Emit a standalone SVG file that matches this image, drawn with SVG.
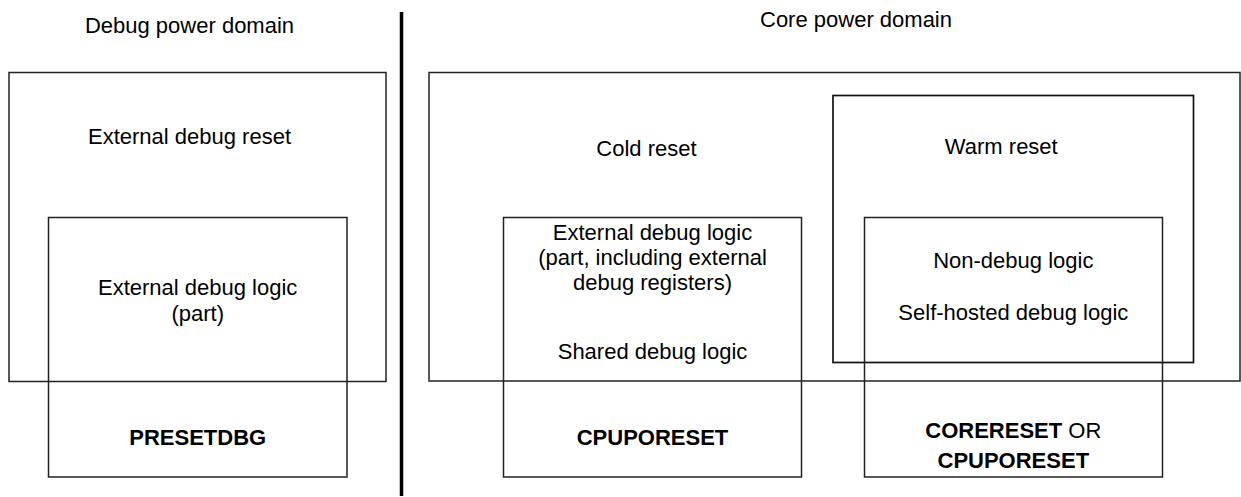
<svg xmlns="http://www.w3.org/2000/svg" width="1241" height="497" viewBox="0 0 1241 497">
<style>
text{font-family:"Liberation Sans",Arial,sans-serif;font-size:22px;fill:#000;text-anchor:middle}
.b{font-weight:bold}
.box{fill:none;stroke:#222;stroke-width:1.5}
.box2{fill:none;stroke:#111;stroke-width:1.7}
</style>
<rect width="1241" height="497" fill="#fff"/>
<g id="labels">
<text x="189.5" y="33">Debug power domain</text>
<text x="856" y="27">Core power domain</text>
</g>
<g id="divider"><line x1="401.5" y1="12" x2="401.5" y2="496" stroke="#000" stroke-width="3.5"/></g>
<g id="external-debug-reset">
<rect class="box" x="9" y="72.5" width="377" height="309"/>
<text x="189.5" y="144">External debug reset</text>
</g>
<g id="presetdbg">
<rect class="box" x="48.5" y="217.5" width="298.5" height="259.5"/>
<text x="197.7" y="295">External debug logic</text>
<text x="197.7" y="321">(part)</text>
<text class="b" x="197.7" y="445">PRESETDBG</text>
</g>
<g id="cold-reset">
<rect class="box" x="429" y="72.5" width="811" height="308.5"/>
<text x="646.5" y="156">Cold reset</text>
</g>
<g id="warm-reset">
<rect class="box2" x="833" y="95.5" width="360.5" height="267"/>
<text x="1001.3" y="154">Warm reset</text>
</g>
<g id="cpuporeset">
<rect class="box" x="503.5" y="217.5" width="298" height="259.5"/>
<text x="652.5" y="240">External debug logic</text>
<text x="652.5" y="265">(part, including external</text>
<text x="652.5" y="290">debug registers)</text>
<text x="652.5" y="359">Shared debug logic</text>
<text class="b" x="652.5" y="445">CPUPORESET</text>
</g>
<g id="corereset">
<rect class="box" x="864.5" y="217.5" width="298" height="259.5"/>
<text x="1013.3" y="268">Non-debug logic</text>
<text x="1013.3" y="320">Self-hosted debug logic</text>
<text x="1013.3" y="438"><tspan class="b">CORERESET</tspan> OR</text>
<text class="b" x="1013.3" y="468">CPUPORESET</text>
</g>
<g id="connectors"/>
</svg>
